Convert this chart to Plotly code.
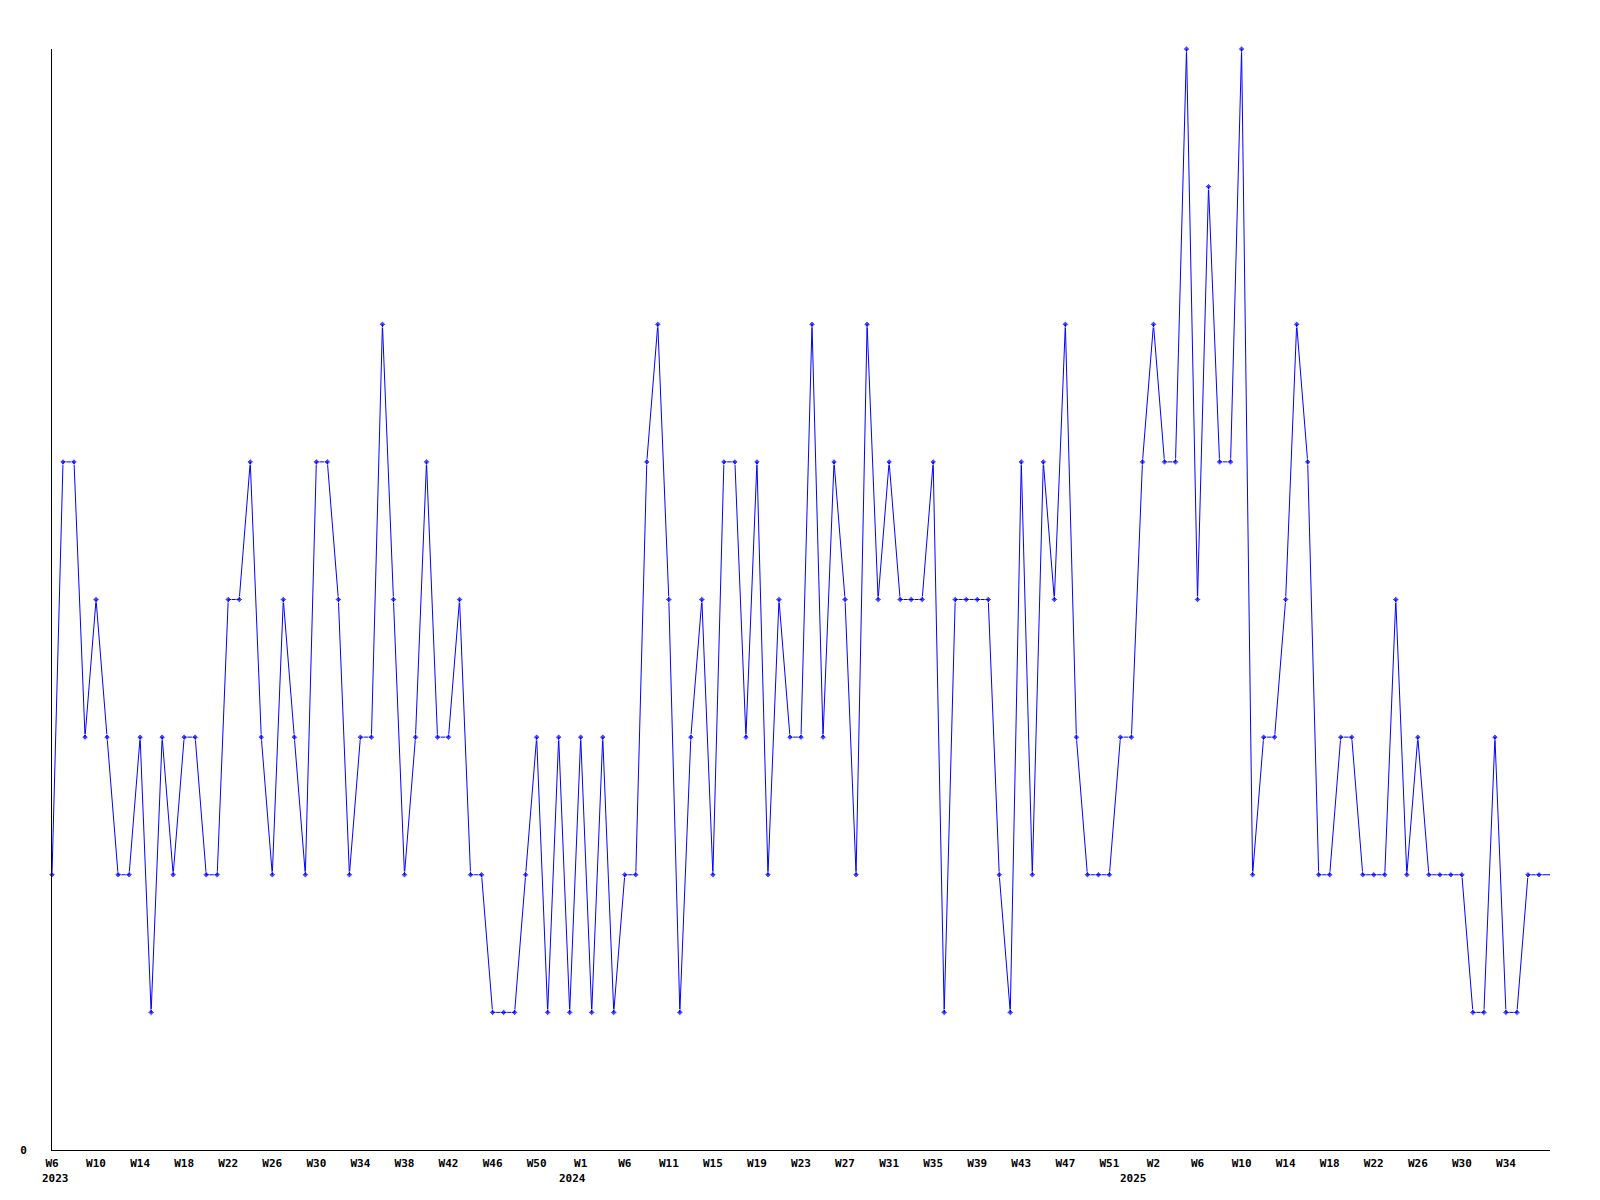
import plotly.graph_objects as go

# weekly counts, 2023 W6 onwards (last value is the open week at the right edge)
values = [
    2, 5, 5, 3, 4, 3, 2, 2, 3, 1, 3, 2, 3, 3, 2, 2, 4, 4, 5, 3,
    2, 4, 3, 2, 5, 5, 4, 2, 3, 3, 6, 4, 2, 3, 5, 3, 3, 4, 2, 2,
    1, 1, 1, 2, 3, 1, 3, 1, 3, 1, 3, 1, 2, 2, 5, 6, 4, 1, 3, 4,
    2, 5, 5, 3, 5, 2, 4, 3, 3, 6, 3, 5, 4, 2, 6, 4, 5, 4, 4, 4,
    5, 1, 4, 4, 4, 4, 2, 1, 5, 2, 5, 4, 6, 3, 2, 2, 2, 3, 3, 5,
    6, 5, 5, 8, 4, 7, 5, 5, 8, 2, 3, 3, 4, 6, 5, 2, 2, 3, 3, 2,
    2, 2, 4, 2, 3, 2, 2, 2, 2, 1, 1, 3, 1, 1, 2, 2, 2,
]

tick_labels = [
    "W6", "W10", "W14", "W18", "W22", "W26", "W30", "W34", "W38", "W42", "W46", "W50",
    "W1", "W6", "W11", "W15", "W19", "W23", "W27", "W31", "W35", "W39", "W43", "W47", "W51",
    "W2", "W6", "W10", "W14", "W18", "W22", "W26", "W30", "W34",
]
tick_step = 4

years = ["2023", "2024", "2025"]
year_ticks = ["W6", "W1", "W2"]  # first labelled week of each year
year_shift = [3, -8, -20]        # px nudge so the year sits like the original

FONT = dict(family="DejaVu Sans Mono", size=11, color="black", weight="bold")

x = list(range(len(values)))
tickvals = [i * tick_step for i in range(len(tick_labels))]

# last sample is the running week: line only, no marker
sizes = [5] * (len(values) - 1) + [0]

fig = go.Figure()
fig.add_trace(go.Scatter(
    x=x, y=values, mode="lines+markers",
    line=dict(color="#0000ff", width=1),
    marker=dict(symbol="diamond", size=sizes, color="#0000ff"),
    cliponaxis=False,
    showlegend=False,
))

# year labels under the first tick of each year
start = 0
for year, wk, dx in zip(years, year_ticks, year_shift):
    pos = tick_labels.index(wk, start)
    start = pos + 1
    fig.add_annotation(
        x=tickvals[pos], y=0, xref="x", yref="paper",
        text=year, showarrow=False, font=FONT,
        yanchor="top", yshift=-20, xshift=dx,
    )

# page body has an 8px margin, so the figure is a bit smaller than the window
fig.update_layout(
    width=1584, height=1184,
    margin=dict(l=42, r=42, t=41, b=42),
    paper_bgcolor="white", plot_bgcolor="white",
    font=FONT,
)
fig.update_xaxes(
    range=[0, len(values) - 1],
    tickvals=tickvals, ticktext=tick_labels,
    tickfont=FONT, ticks="", ticklabelstandoff=3,
    showgrid=False, zeroline=False,
    showline=True, linecolor="black", linewidth=1,
)
fig.update_yaxes(
    range=[0, 8],
    tickvals=[0], ticktext=["0"],
    tickfont=FONT, ticks="", ticklabelstandoff=22,
    showgrid=False, zeroline=False,
    showline=True, linecolor="black", linewidth=1,
)

fig.write_html("out.html")
